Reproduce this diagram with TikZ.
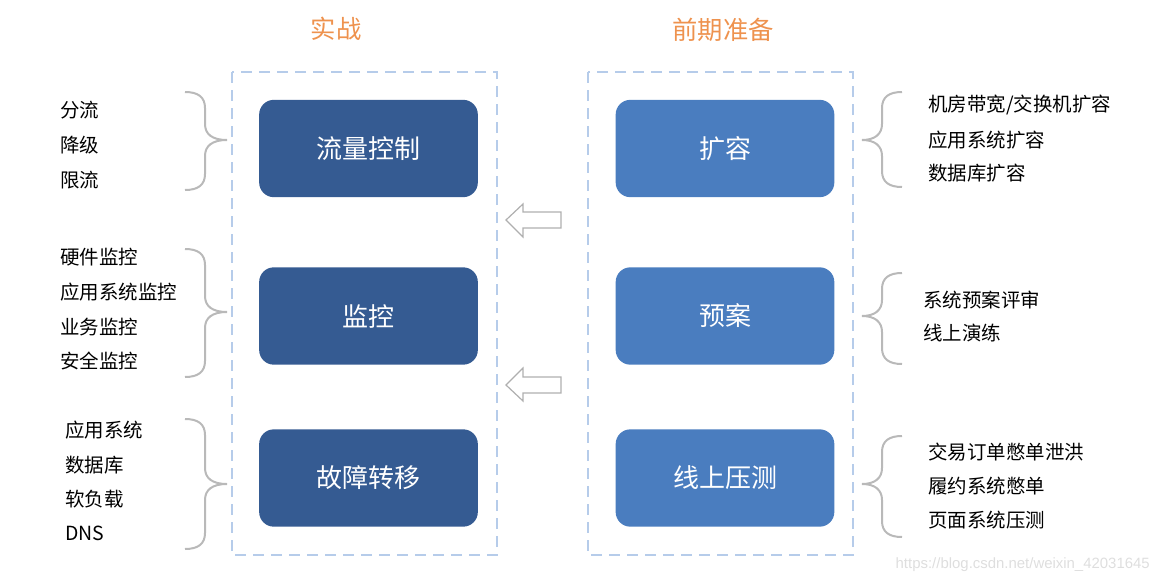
\documentclass[tikz,border=0pt]{standalone}
\usepackage{fontspec}
\setmainfont{Noto Sans CJK SC}
\newfontfamily\markfont{Liberation Sans}

\begin{document}
\begin{tikzpicture}[x=0.75pt,y=0.75pt,yscale=-1,xscale=1,
  fight/.style={fill={rgb, 255:red, 53; green, 91; blue, 146}, rounded corners=11pt, minimum width=164pt, minimum height=73pt, inner sep=0pt, text=white, font=\fontsize{19.5}{22}\selectfont},
  prep/.style={fight, fill={rgb, 255:red, 74; green, 125; blue, 191}},
  title/.style={inner sep=0pt, text={rgb, 255:red, 238; green, 146; blue, 78}, font=\fontsize{19}{22}\selectfont},
  item/.style={anchor=west, inner sep=0pt, font=\fontsize{14.6}{17}\selectfont},
  frame/.style={color={rgb, 255:red, 182; green, 204; blue, 234}, line width=2.1pt, dash pattern=on 8pt off 5.5pt},
  brace/.style={color={rgb, 255:red, 185; green, 185; blue, 185}, line width=1.5pt},
  hollow/.style={color={rgb, 255:red, 175; green, 175; blue, 175}, line width=0.9pt, line join=miter}]
\useasboundingbox (0,0) rectangle (1156,582);

%Titles
\draw (336,29) node (fighttitle) [title] {实战};
\draw (723,30) node (preptitle) [title] {前期准备};

%Dashed frames
\draw [frame] (232,72) rectangle (497,555);
\draw [frame] (588,72) rectangle (853,555);

%Boxes, left
\draw (368.5,148.5) node (flow) [fight] {流量控制};
\draw (368.5,316) node (watch) [fight] {监控};
\draw (368.5,478) node (failover) [fight] {故障转移};
%Boxes, right
\draw (725,148.5) node (expand) [prep] {扩容};
\draw (725,316) node (plan) [prep] {预案};
\draw (725,478) node (stress) [prep] {线上压测};

%Hollow arrows
\draw [hollow] (506,220) -- (523,204) -- (523,212) -- (561,212) -- (561,228) -- (523,228) -- (523,237) -- cycle ;
\draw [hollow] (506,385) -- (523,368) -- (523,377) -- (561,377) -- (561,393) -- (523,393) -- (523,401) -- cycle ;

%Braces, left
\draw [brace] (185,92) .. controls (198,92) and (205,97) .. (205,108) -- (205,124) .. controls (205,134) and (212,140) .. (227,140) .. controls (212,140) and (205,146) .. (205,156) -- (205,174) .. controls (205,185) and (198,190) .. (185,190) ;
\draw [brace] (185,249) .. controls (198,249) and (205,254) .. (205,265) -- (205,296) .. controls (205,306) and (212,312) .. (227,312) .. controls (212,312) and (205,318) .. (205,328) -- (205,361) .. controls (205,372) and (198,377) .. (185,377) ;
\draw [brace] (185,419) .. controls (198,419) and (205,424) .. (205,435) -- (205,468) .. controls (205,478) and (212,484) .. (227,484) .. controls (212,484) and (205,490) .. (205,500) -- (205,533) .. controls (205,544) and (198,549) .. (185,549) ;
%Braces, right
\draw [brace] (902,92) .. controls (889,92) and (882,97) .. (882,108) -- (882,124) .. controls (882,134) and (875,140) .. (862,140) .. controls (875,140) and (882,146) .. (882,156) -- (882,171) .. controls (882,182) and (889,187) .. (902,187) ;
\draw [brace] (902,273) .. controls (889,273) and (882,278) .. (882,289) -- (882,300) .. controls (882,310) and (875,316) .. (862,316) .. controls (875,316) and (882,322) .. (882,332) -- (882,348) .. controls (882,359) and (889,364) .. (902,364) ;
\draw [brace] (902,436) .. controls (889,436) and (882,441) .. (882,452) -- (882,468) .. controls (882,478) and (875,484) .. (862,484) .. controls (875,484) and (882,490) .. (882,500) -- (882,521) .. controls (882,532) and (889,537) .. (902,537) ;

% Text Node
\draw (60,110) node (split) [item] {分流};
\draw (60,145) node (degrade) [item] {降级};
\draw (60,180) node (limit) [item] {限流};
% Text Node
\draw (60,257) node (hwwatch) [item] {硬件监控};
\draw (60,292) node (appwatch) [item] {应用系统监控};
\draw (60,327) node (bizwatch) [item] {业务监控};
\draw (60,361) node (secwatch) [item] {安全监控};
% Text Node
\draw (65,430) node (appsys) [item] {应用系统};
\draw (65,465) node (db) [item] {数据库};
\draw (65,499) node (slb) [item] {软负载};
\draw (65,533) node (dns) [item] {DNS};
% Text Node
\draw (928,105) node (room) [item] {机房带宽/交换机扩容};
\draw (928,140) node (appexp) [item] {应用系统扩容};
\draw (928,173) node (dbexp) [item] {数据库扩容};
% Text Node
\draw (923,300) node (review) [item] {系统预案评审};
\draw (923,333) node (drill) [item] {线上演练};
% Text Node
\draw (928,452) node (flood) [item] {交易订单憋单泄洪};
\draw (928,486) node (fulfil) [item] {履约系统憋单};
\draw (928,520) node (pages) [item] {页面系统压测};

% Watermark
\draw (1150,565) node (mark) [anchor=east, inner sep=0pt, text={rgb, 255:red, 222; green, 222; blue, 222}] {\markfont\fontsize{11.2}{13}\selectfont https://blog.csdn.net/weixin\_42031645};

\end{tikzpicture}
\end{document}
